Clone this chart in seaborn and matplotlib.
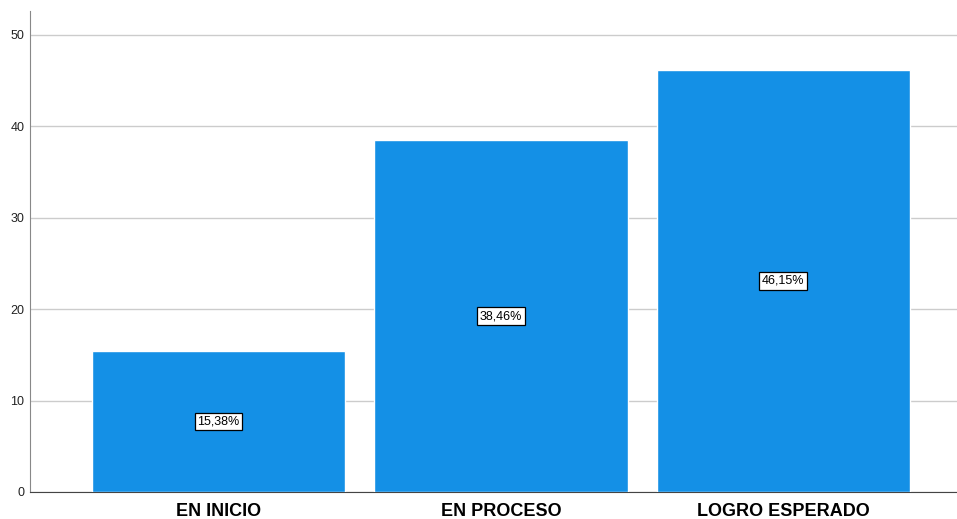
import matplotlib
matplotlib.use("Agg")
import matplotlib.pyplot as plt
import seaborn as sns
import pandas as pd

# --- Data ---
categorias = ["EN INICIO", "EN PROCESO", "LOGRO ESPERADO"]
porcentajes = [15.38, 38.46, 46.15]
etiquetas = ["15,38%", "38,46%", "46,15%"]

df = pd.DataFrame({"categoria": categorias, "porcentaje": porcentajes})

sns.set_style("white")
plt.rcParams['font.family'] = ['Liberation Sans', 'DejaVu Sans']

fig = plt.figure(figsize=(9.57, 5.19), dpi=100)
ax = fig.add_axes([30 / 957, 1 - 492 / 519, 927 / 957, 481 / 519])

sns.barplot(data=df, x="categoria", y="porcentaje", color="#1490E6",
            saturation=1, width=0.897, ax=ax, zorder=3)

# --- Etiquettes de pourcentage au milieu des barres ---
for i, (v, t) in enumerate(zip(porcentajes, etiquetas)):
    ax.text(i, v / 2, t, ha="center", va="center", fontsize=9, color="black", zorder=5,
            bbox=dict(boxstyle="square,pad=0.22", fc="white", ec="black", lw=0.9))

ax.set_xlim(-0.668, 2.615)
ax.set_ylim(0, 52.6)
ax.set_yticks([0, 10, 20, 30, 40, 50])
ax.yaxis.grid(True, color="#cccccc", lw=1, zorder=0)
ax.set_axisbelow(True)

ax.set_xlabel("")
ax.set_ylabel("")
ax.tick_params(axis="y", labelsize=9, length=0, pad=4, labelcolor="#222222")
ax.tick_params(axis="x", labelsize=13, length=0, pad=8, labelcolor="black")
for lab in ax.get_xticklabels():
    lab.set_fontweight("bold")

for side in ["top", "right"]:
    ax.spines[side].set_visible(False)
ax.spines["left"].set_color("#888888")
ax.spines["bottom"].set_color("#444444")

fig.savefig("out.png", dpi=100)
